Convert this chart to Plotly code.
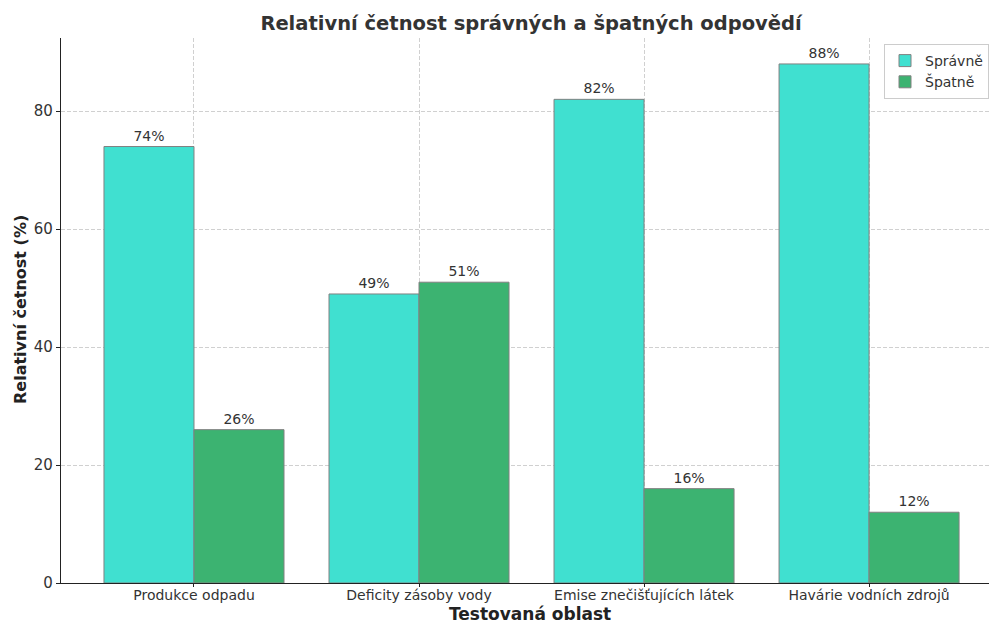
import plotly.graph_objects as go

# Data
categories = ["Produkce odpadu", "Deficity zásoby vody", "Emise znečišťujících látek", "Havárie vodních zdrojů"]
spravne = [74, 49, 82, 88]
spatne = [26, 51, 16, 12]

W, H = 989, 623
FONT = "DejaVu Sans"

fig = go.Figure()
fig.add_trace(go.Bar(
    name="Správně", x=categories, y=spravne,
    marker=dict(color="#40E0D0", line=dict(color="#808080", width=1)),
    texttemplate="%{y}%", textposition="outside", cliponaxis=False,
    textfont=dict(family=FONT, size=14, color="#333333"),
))
fig.add_trace(go.Bar(
    name="Špatně", x=categories, y=spatne,
    marker=dict(color="#3CB371", line=dict(color="#808080", width=1)),
    texttemplate="%{y}%", textposition="outside", cliponaxis=False,
    textfont=dict(family=FONT, size=14, color="#333333"),
))

fig.update_layout(
    width=W, height=H,
    margin=dict(l=61, r=0, t=38, b=40, autoexpand=False),
    paper_bgcolor="white", plot_bgcolor="white",
    barmode="group", bargap=0.2, bargroupgap=0,
    font=dict(family=FONT, color="#333333"),
    title=dict(
        text="<b>Relativní četnost správných a špatných odpovědí</b>",
        x=531 / W, xref="container", xanchor="center",
        y=1 - 23 / H, yref="container", yanchor="middle",
        font=dict(family=FONT, size=19.5, color="#333333"),
    ),
    legend=dict(
        xref="paper", yref="paper",
        x=(884 - 61) / 928, y=(583 - 44) / 545, xanchor="left", yanchor="top",
        bgcolor="white", bordercolor="#cccccc", borderwidth=1,
        font=dict(family=FONT, size=14, color="#333333"),
    ),
    xaxis=dict(
        range=[-0.591, 3.533],
        showline=True, linecolor="#222222", linewidth=1.2,
        ticks="outside", ticklen=3, tickcolor="#222222",
        ticklabelstandoff=-4,
        tickfont=dict(family=FONT, size=14, color="#333333"),
        showgrid=True, gridcolor="#d0d0d0", gridwidth=0.8, griddash="4px,2px",
    ),
    yaxis=dict(
        range=[0, 92.4],
        tickvals=[0, 20, 40, 60, 80],
        showline=True, linecolor="#222222", linewidth=1.2,
        ticks="outside", ticklen=4, tickcolor="#222222",
        tickfont=dict(family=FONT, size=15, color="#333333"),
        showgrid=True, gridcolor="#d0d0d0", gridwidth=0.8, griddash="4px,2px",
        zeroline=False,
    ),
    annotations=[
        dict(text="<b>Testovaná oblast</b>", xref="paper", yref="paper",
             x=(530 - 61) / 928, y=-(614 - 583) / 545,
             xanchor="center", yanchor="middle", showarrow=False,
             font=dict(family=FONT, size=17, color="#222222")),
        dict(text="<b>Relativní četnost (%)</b>", xref="paper", yref="paper",
             x=-(61 - 20) / 928, y=(583 - 310) / 545, textangle=-90,
             xanchor="center", yanchor="middle", showarrow=False,
             font=dict(family=FONT, size=16, color="#222222")),
    ],
)

fig.write_html("out.html")
